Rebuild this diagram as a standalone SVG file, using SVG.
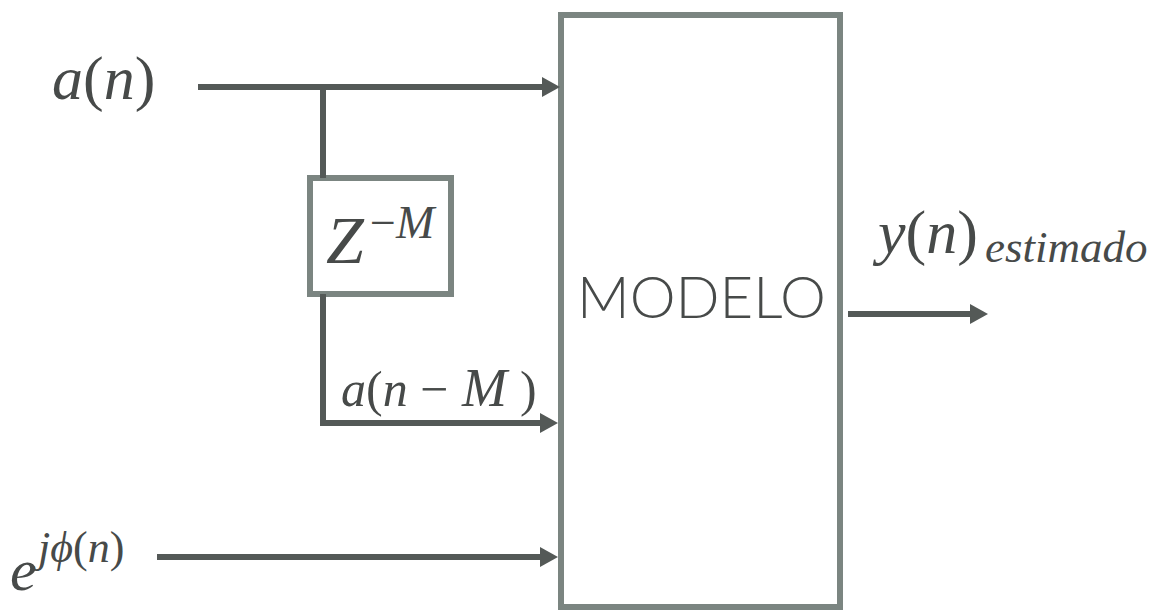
<svg xmlns="http://www.w3.org/2000/svg" width="1165" height="612" viewBox="0 0 1165 612">
<style>
.box{fill:#fff;stroke:#7b8581;stroke-width:6}
.ln{fill:none;stroke:#545957;stroke-width:6}
.lbl{font-family:Lato;font-weight:300;fill:#474a49}
</style>
<defs>
<marker id="ah" markerUnits="userSpaceOnUse" markerWidth="20" markerHeight="22" refX="0" refY="11" orient="auto" viewBox="0 0 20 22">
<path d="M0,1 L18,11 L0,21 Z" fill="#545957"/>
</marker>
</defs>
<rect width="1165" height="612" fill="#fff"/>
<g id="modelo">
<rect class="box" x="561" y="15" width="279" height="592"/>
<text class="lbl" x="577" y="318" font-size="57" textLength="249" lengthAdjust="spacingAndGlyphs">MODELO</text>
</g>
<g id="delay">
<rect class="box" x="310" y="178" width="141" height="116"/>
<text font-family="Liberation Serif" fill="#474a49" x="326" y="263" font-size="68"><tspan font-style="italic">Z</tspan><tspan font-size="46" x="370" y="238">−</tspan><tspan font-style="italic" font-size="46" x="396" y="238">M</tspan></text>
</g>
<g id="connectors">
<path class="ln" d="M198,87 H542" marker-end="url(#ah)"/>
<path class="ln" d="M323,87 V178"/>
<path class="ln" d="M323,294 V423 H540" marker-end="url(#ah)"/>
<path class="ln" d="M157,557 H540" marker-end="url(#ah)"/>
<path class="ln" d="M848,314 H970" marker-end="url(#ah)"/>
</g>
<g id="labels">
<text font-family="Liberation Serif" fill="#474a49" x="52" y="99" font-size="62"><tspan font-style="italic">a</tspan>(<tspan font-style="italic">n</tspan>)</text>
<text font-family="Liberation Serif" fill="#474a49" x="341" y="406" font-size="50"><tspan font-style="italic">a</tspan>(<tspan font-style="italic">n</tspan><tspan x="420">−</tspan><tspan font-style="italic" font-size="54" x="462">M</tspan><tspan x="520">)</tspan></text>
<text font-family="Liberation Serif" fill="#474a49" x="10" y="590" font-size="60"><tspan font-style="italic">e</tspan><tspan font-size="44" x="38" y="562"><tspan font-style="italic">jϕ</tspan>(<tspan font-style="italic">n</tspan>)</tspan></text>
<text font-family="Liberation Serif" fill="#474a49" x="878" y="253" font-size="62"><tspan font-style="italic">y</tspan>(<tspan font-style="italic">n</tspan>)<tspan font-style="italic" font-size="45" x="985" y="262">estimado</tspan></text>
</g>
</svg>
